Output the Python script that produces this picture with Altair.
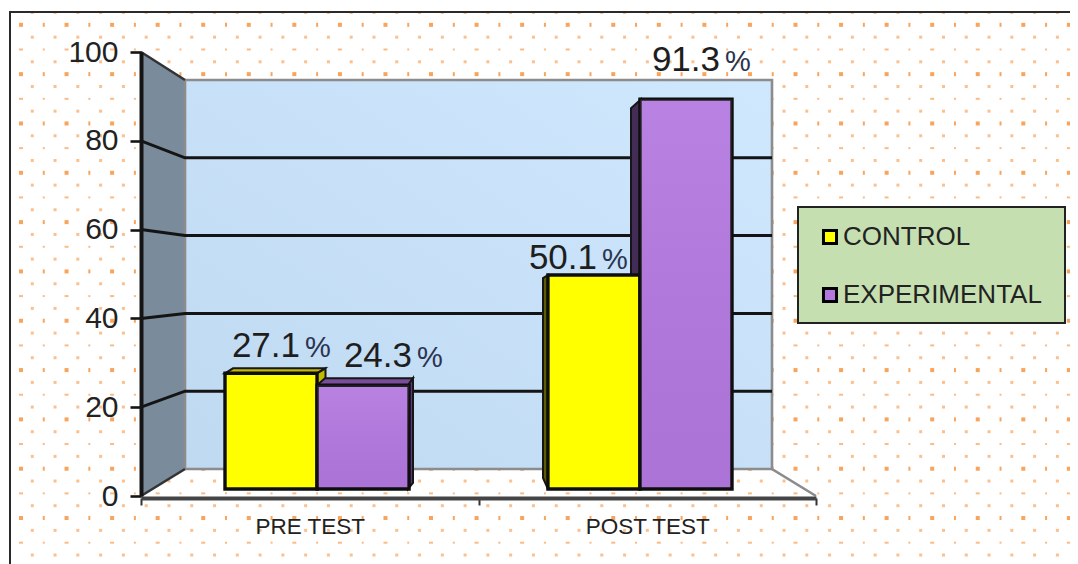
import altair as alt
import pandas as pd

categories = ["PRE TEST", "POST TEST"]
series_names = ["CONTROL", "EXPERIMENTAL"]
control_values = [27.1, 50.1]
experimental_values = [24.3, 91.3]
y_ticks = [0, 20, 40, 60, 80, 100]

W, H = 1062, 556

# page-pixel helper scale (page pixel = svg pixel + 8)
SX = alt.Scale(domain=[8, 8 + W], range=[0, W])
SY = alt.Scale(domain=[8 + H, 8], range=[H, 0])
def PX(f="x"):
    return alt.X(f"{f}:Q", scale=SX, axis=None)
def PY(f="y"):
    return alt.Y(f"{f}:Q", scale=SY, axis=None)

# bar value scale, 3-D perspective helpers
BAR_Y0, BAR_K = 489.0, 4.27
def bar_px(v):
    return BAR_Y0 - BAR_K * v
def back_px(v):
    return 469 - 3.89 * v
def front_px(v):
    return 496 - 4.44 * v

layers = []

# ---------- dotted background texture ----------
dots = []
rows = 46
for r in range(rows):
    y = 12.5 + r * 12.33
    kind = ["A", "B", "A", "C"][r % 4]
    for c in range(48):
        if kind == "A":
            x = 9.5 + c * 22.78
            w, h, col = 3, 3, "#fbc08f"
        else:
            x = -1.8 + c * 22.78
            big = c % 2 == 1
            if kind == "B":
                w, h = (4, 4) if big else (2, 4)
                col = "#f9a45c"
            else:
                w, h = (4, 2) if big else (2, 2)
                col = "#fbbb85"
        if 11 <= x <= 8 + W and y < 8 + H:
            dots.append(dict(x=x - w / 2, x2=x + w / 2, y=y - h / 2, y2=y + h / 2, c=col))
dots = pd.DataFrame(dots)
layers.append(alt.Chart(dots).mark_rect().encode(
    x=PX(), x2="x2:Q", y=PY(), y2="y2:Q", color=alt.Color("c:N", scale=None, legend=None)))

def segs(segments, color, width):
    rows_ = []
    for s, pts in enumerate(segments):
        for i, (x, y) in enumerate(pts):
            rows_.append(dict(x=x, y=y, s=s, i=i))
    return alt.Chart(pd.DataFrame(rows_)).mark_line(color=color, strokeWidth=width).encode(
        x=PX(), y=PY(), detail="s:N", order="i:Q")

def face(xs, ys, y2s, fill, stroke="#161616", sw=2):
    df = pd.DataFrame(dict(x=xs, y=ys, y2=y2s))
    return alt.Chart(df).mark_area(fill=fill, stroke=stroke, strokeWidth=sw, opacity=1).encode(
        x=PX(), y=PY(), y2="y2:Q")

def grad(top, bottom, x1=0, y1=0, x2=0, y2=1):
    return alt.Gradient(gradient="linear", x1=x1, y1=y1, x2=x2, y2=y2, stops=[
        alt.GradientStop(color=top, offset=0), alt.GradientStop(color=bottom, offset=1)])

# frame
layers.append(segs([[(10, 8 + H), (10, 12), (8 + W, 12)]], "#2a2a2a", 2))

# walls
layers.append(face([141, 185], [front_px(100), back_px(100)], [front_px(0), back_px(0)], "#7a8b9b", stroke="#7a8b9b", sw=0))
wall = pd.DataFrame([dict(x=185, x2=772, y=back_px(100), y2=back_px(0))])
layers.append(alt.Chart(wall).mark_rect(fill=grad("#cfe8fe", "#bfd9f1", x1=1, y1=0, x2=0, y2=1)).encode(
    x=PX(), x2="x2:Q", y=PY(), y2="y2:Q"))
layers.append(segs([[(185, 80), (772, 80), (772, 469), (816, 496)], [(185, 469), (772, 469)], [(185, 80), (185, 469)]], "#8c8c8c", 2.6))
layers.append(segs([[(141, 52), (185, 80)], [(141, 496), (185, 469)]], "#333333", 2.6))

# gridlines
grid_values = y_ticks[1:-1]
layers.append(segs([[(141, front_px(v)), (185, back_px(v)), (772, back_px(v))] for v in grid_values], "#141414", 3))

# axes (real axes, own scale)
axis_df = pd.DataFrame([dict(cat=c, v=t) for c in categories for t in y_ticks])
layers.append(alt.Chart(axis_df).mark_tick(opacity=0).encode(
    x=alt.X("cat:N", sort=categories, title=None,
            scale=alt.Scale(domain=categories, range=[133, 808], paddingInner=0, paddingOuter=0),
            axis=alt.Axis(orient="bottom", offset=-66, labelAngle=0, labelFont="Liberation Sans", labelFontSize=22.5,
                          labelColor="#222222", labelPadding=10, tickSize=7, tickWidth=2, tickColor="#333333",
                          tickBand="extent", domainColor="#444444", domainWidth=4, grid=False, zindex=1)),
    y=alt.Y("v:Q", title=None,
            scale=alt.Scale(domain=[0, 100], range=[front_px(0) - 8, front_px(100) - 8]),
            axis=alt.Axis(orient="left", offset=-133, values=y_ticks, labelFont="Liberation Sans", labelFontSize=30,
                          labelColor="#222222", labelPadding=12, tickSize=11, tickWidth=2.6, tickColor="#141414",
                          domainColor="#141414", domainWidth=4, grid=False, zindex=1)),
))

# 3-D faces of the bars
YELLOW_DARK, YELLOW_SIDE = "#c2b900", "#5e5c00"
PURPLE_TOP, PURPLE_SIDE, PURPLE_DARK = "#7a4c9c", "#5c3a7c", "#432c57"
ty, py_ = bar_px(control_values[0]), bar_px(experimental_values[0])
py2, ey2 = bar_px(control_values[1]), bar_px(experimental_values[1])
layers.append(face([225, 233, 317, 325], [ty, ty - 5, ty - 5, ty - 5], [ty, ty, ty, ty - 5], YELLOW_DARK))
layers.append(face([317, 325.5], [ty, ty - 5], [py_, py_ - 6], YELLOW_DARK))
layers.append(face([317, 325, 408, 413], [py_, py_ - 7, py_ - 7, py_ - 7], [py_, py_, py_, py_ - 7], PURPLE_TOP))
layers.append(face([408, 413], [py_, py_ - 7], [489, 483], PURPLE_SIDE))
layers.append(face([543, 548], [py2 + 3, py2], [478, 489], YELLOW_SIDE))
layers.append(face([631, 641], [ey2 + 9, ey2], [py2, py2], PURPLE_DARK))

# legend box
box = pd.DataFrame([dict(x=798, x2=1065, y=207, y2=323)])
layers.append(alt.Chart(box).mark_rect(fill="#c5dfb1", stroke="#222222", strokeWidth=2).encode(
    x=PX(), x2="x2:Q", y=PY(), y2="y2:Q"))

# bars
bars = pd.DataFrame(
    [dict(cat=c, series=series_names[0], v=v) for c, v in zip(categories, control_values)]
    + [dict(cat=c, series=series_names[1], v=v) for c, v in zip(categories, experimental_values)])
SCX = alt.Scale(domain=categories, range=[217, 724], paddingInner=0.43, paddingOuter=0)
SBY = alt.Scale(domain=[0, 100], range=[BAR_Y0 - 8, BAR_Y0 - 8 - 100 * BAR_K])
layers.append(alt.Chart(bars).mark_bar(stroke="#0e0e0e", strokeWidth=3.4).encode(
    x=alt.X("cat:N", sort=categories, scale=SCX, axis=None),
    xOffset=alt.XOffset("series:N", sort=series_names),
    y=alt.Y("v:Q", scale=SBY, axis=None),
    color=alt.Color("series:N", sort=series_names,
                    scale=alt.Scale(domain=series_names, range=["#ffff00", "#b378e0"]),
                    legend=alt.Legend(orient="none", legendX=809, legendY=216, title=None, padding=0,
                                      symbolType="square", symbolSize=170, symbolStrokeColor="#000000",
                                      symbolStrokeWidth=3, symbolOpacity=1, labelFont="Liberation Sans",
                                      labelFontSize=26, labelColor="#222222", labelOffset=0, labelLimit=400,
                                      rowPadding=32, symbolOffset=0)),
))
# soft sheen on the purple bars
layers.append(alt.Chart(bars[bars.series == series_names[1]]).mark_bar(
    fill=grad("rgba(255,255,255,0.08)", "rgba(0,0,0,0.04)")).encode(
    x=alt.X("cat:N", sort=categories, scale=SCX, axis=None),
    xOffset=alt.XOffset("series:N", scale=alt.Scale(domain=series_names)),
    y=alt.Y("v:Q", scale=SBY, axis=None),
))

# value labels
label_right = [300, 412, 597, 720]
label_base = [357, 367, 269, 71]
label_vals = [control_values[0], experimental_values[0], control_values[1], experimental_values[1]]
lab = pd.DataFrame(dict(
    x=label_right,
    y=label_base,
    xp=[r + 5 for r in label_right],
    t=[f"{v}" for v in label_vals],
    p=["%"] * 4))
layers.append(alt.Chart(lab).mark_text(font="Liberation Sans", fontSize=35, color="#1e1e1e", align="right", baseline="alphabetic").encode(
    x=PX(), y=PY(), text="t:N"))
layers.append(alt.Chart(lab).mark_text(font="Liberation Sans", fontSize=29, color="#2a3350", align="left", baseline="alphabetic").encode(
    x=PX("xp"), y=PY(), text="p:N"))

chart = alt.layer(*layers).resolve_scale(x="independent", y="independent", color="independent").properties(
    width=W, height=H, padding=0, autosize=alt.AutoSizeParams(type="none"), background="white"
).configure_view(stroke=None)

chart.save("out.html", embed_options={"renderer": "svg", "actions": False})
